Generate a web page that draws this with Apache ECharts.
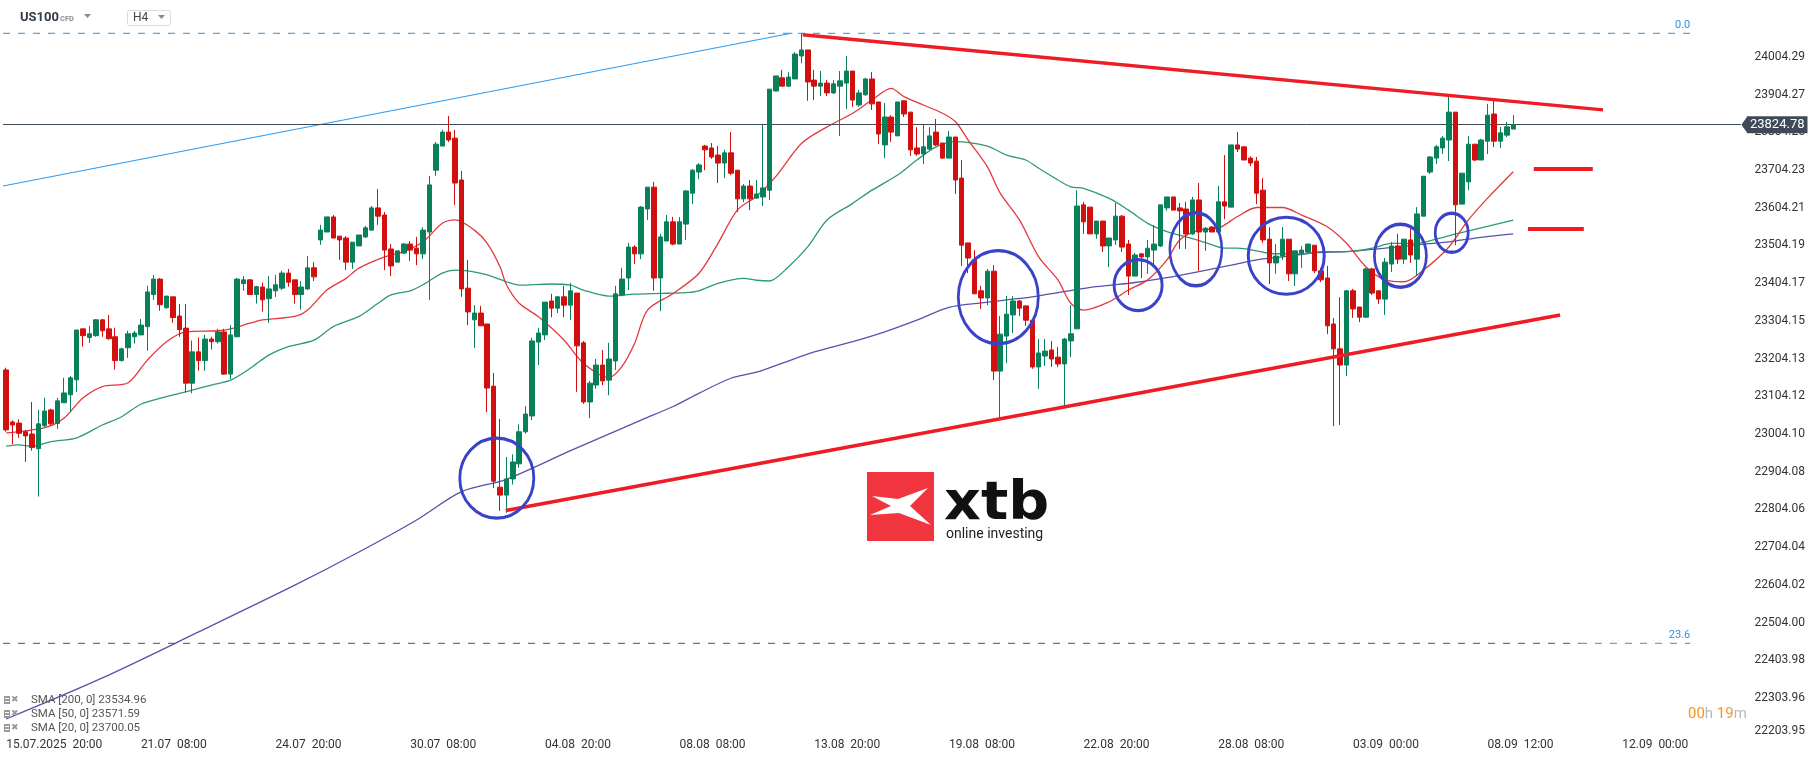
<!DOCTYPE html>
<html><head><meta charset="utf-8">
<script src="https://cdn.jsdelivr.net/npm/echarts@6/dist/echarts.min.js"></script>
<style>html,body{margin:0;padding:0;background:#fff}#c{width:1815px;height:761px}</style>
</head><body><div id="c"></div>
<script>
// ---------- DATA ----------
const opens = [23174,23036,23033,23010,23004,22965,23026,23068,23032,23087,23108,23148,23283,23260,23265,23307,23283,23262,23199,23233,23262,23267,23289,23374,23415,23339,23368,23317,23285,23139,23222,23199,23256,23249,23275,23163,23262,23403,23413,23374,
23394,23363,23384,23391,23431,23413,23374,23389,23445,23519,23540,23580,23529,23524,23460,23503,23527,23545,23604,23585,23495,23460,23484,23508,23497,23482,23540,23704,23768,23805,
23789,23678,23391,23307,23325,23296,23131,22863,22842,22885,22925,23010,23052,23248,23267,23357,23338,23368,23346,23378,23246,23089,23134,23187,23147,23198,23373,23418,23500,23482,
23601,23659,23418,23516,23567,23508,23561,23643,23699,23768,23763,23744,23723,23750,23704,23628,23662,23630,23633,23651,23914,23949,23927,23946,24007,24023,23943,23927,23935,23909,
23927,23935,23967,23877,23904,23946,23885,23771,23845,23795,23888,23858,23763,23747,23760,23805,23776,23736,23792,23683,23511,23466,23384,23365,23436,23171,23264,23320,23357,23344,
23306,23182,23211,23227,23208,23190,23251,23283,23612,23606,23535,23569,23503,23519,23582,23508,23423,23482,23474,23492,23503,23604,23633,23604,23601,23535,23625,23540,23553,23540,
23620,23606,23771,23766,23736,23728,23651,23521,23458,23476,23521,23429,23484,23487,23505,23437,23418,23296,23230,23187,23384,23341,23314,23442,23384,23362,23455,23503,23468,23519,
23468,23582,23699,23736,23763,23784,23858,23614,23673,23773,23731,23781,23853,23781,23797,23813];
const closes = [23015,23028,23006,22999,22968,23031,23065,23031,23092,23113,23153,23280,23265,23270,23307,23278,23257,23199,23230,23270,23272,23293,23381,23415,23347,23370,23313,23281,23139,23222,23199,23256,23249,23275,23163,23267,23415,23413,23374,23395,
23360,23389,23400,23431,23407,23374,23394,23445,23421,23545,23580,23524,23519,23460,23513,23532,23551,23604,23582,23492,23450,23490,23508,23492,23482,23545,23665,23773,23805,23784,
23670,23389,23328,23325,23291,23126,22879,22842,22885,22930,23010,23057,23251,23272,23354,23338,23368,23346,23384,23238,23089,23139,23187,23145,23203,23376,23415,23500,23482,23606,
23659,23418,23527,23567,23508,23567,23649,23704,23718,23758,23739,23723,23750,23696,23628,23662,23628,23641,23657,23919,23954,23927,23951,24012,24023,23938,23927,23935,23909,23933,
23941,23967,23890,23909,23946,23880,23800,23845,23805,23885,23853,23758,23747,23766,23795,23771,23736,23792,23678,23505,23471,23376,23365,23436,23171,23269,23322,23357,23338,23306,
23182,23219,23224,23203,23190,23256,23270,23609,23567,23535,23569,23503,23524,23582,23500,23423,23479,23474,23497,23508,23612,23633,23598,23596,23535,23625,23540,23550,23540,23620,
23609,23771,23760,23731,23723,23643,23519,23458,23476,23521,23429,23490,23492,23508,23437,23413,23291,23230,23187,23384,23336,23314,23442,23378,23362,23460,23503,23468,23521,23479,
23588,23688,23739,23766,23789,23858,23612,23696,23773,23731,23784,23850,23781,23803,23819,23824.78];
const lows = [23010,22977,22994,22930,22960,22838,23023,23026,23018,23087,23063,23116,23236,23246,23262,23262,23254,23175,23196,23206,23244,23267,23225,23360,23331,23337,23299,23262,23115,23112,23172,23172,23228,23244,23161,23150,23262,23384,23374,23350,
23329,23299,23368,23386,23395,23350,23334,23386,23410,23506,23540,23524,23466,23439,23442,23503,23524,23543,23559,23439,23423,23460,23482,23463,23452,23468,23360,23689,23768,23779,
23612,23368,23293,23232,23291,23062,22861,22800,22795,22870,22915,23005,23041,23187,23253,23314,23325,23314,23306,23116,23084,23046,23124,23134,23107,23174,23370,23386,23455,23468,
23572,23384,23330,23516,23505,23508,23519,23614,23680,23704,23734,23670,23683,23691,23593,23619,23598,23628,23609,23625,23914,23927,23925,23946,23988,23888,23890,23901,23901,23906,
23795,23866,23872,23872,23901,23864,23773,23736,23779,23795,23845,23742,23742,23720,23758,23768,23734,23736,23641,23450,23431,23376,23336,23346,23147,23041,23192,23272,23317,23291,
23177,23124,23185,23182,23182,23078,23208,23283,23535,23535,23522,23487,23447,23506,23487,23373,23423,23418,23429,23452,23500,23596,23598,23495,23495,23532,23436,23490,23540,23540,
23574,23606,23752,23731,23715,23614,23511,23402,23429,23466,23410,23397,23445,23484,23431,23407,23269,23025,23028,23158,23312,23301,23312,23373,23349,23320,23434,23455,23455,23458,
23423,23582,23694,23720,23747,23728,23505,23614,23651,23728,23731,23747,23765,23763,23792,23813];
const highs = [23180,23040,23043,23015,23089,23068,23100,23071,23100,23153,23158,23280,23283,23291,23309,23309,23320,23286,23233,23278,23278,23309,23397,23426,23418,23370,23368,23349,23349,23252,23260,23267,23262,23283,23283,23293,23418,23423,23415,23397,
23406,23423,23426,23437,23442,23413,23410,23476,23460,23559,23580,23585,23529,23529,23513,23532,23556,23609,23654,23593,23508,23490,23511,23516,23527,23553,23689,23779,23811,23848,
23811,23702,23466,23346,23344,23296,23166,23044,22943,22950,23030,23078,23259,23286,23354,23376,23370,23397,23405,23378,23251,23145,23203,23227,23246,23397,23445,23511,23505,23609,
23659,23673,23535,23585,23580,23580,23651,23707,23723,23771,23776,23768,23758,23805,23704,23667,23678,23678,23824,23919,23954,23970,23964,24017,24068,24023,23970,23967,23943,23943,
23967,24007,23967,23917,23949,23964,23885,23882,23850,23885,23888,23858,23818,23824,23818,23840,23776,23808,23792,23731,23511,23492,23397,23442,23452,23317,23370,23370,23360,23344,
23306,23256,23256,23251,23235,23259,23346,23651,23620,23606,23569,23569,23524,23617,23585,23519,23484,23484,23519,23559,23612,23633,23633,23617,23620,23633,23670,23553,23556,23662,
23744,23771,23805,23766,23741,23739,23683,23553,23508,23553,23521,23490,23503,23508,23505,23445,23450,23312,23367,23386,23389,23341,23445,23445,23384,23471,23513,23535,23521,23550,
23606,23688,23741,23771,23795,23901,23858,23696,23795,23773,23787,23880,23890,23819,23832,23850];

// x-axis tick labels, one every `labelEvery` bars
const xTickLabels = ['15.07.2025  20:00','21.07  08:00','24.07  20:00','30.07  08:00','04.08  20:00','08.08  08:00','13.08  20:00','19.08  08:00','22.08  20:00','28.08  08:00','03.09  00:00','08.09  12:00','12.09  00:00'];
const labelEvery = 21;
const futureBars = 35;
// y-axis tick labels (price scale)
const yTickValues = [22203.95,22303.96,22403.98,22504.00,22604.02,22704.04,22804.06,22904.08,23004.10,23104.12,23204.13,23304.15,23404.17,23504.19,23604.21,23704.23,23804.25,23904.27,24004.29];

// moving averages (bar index, value)
const sma20Idx = [0,6,9,12,15,19,22,25,28,33,35,38,40,45,47,50,53,55,59,62,65,68,70,73,75,77,78,80,83,87,90,94,96,98,100,104,108,111,114,117,120,124,128,132,135,138,140,143,146,148,150,153,155,158,161,164,166,168,172,175,178,181,183,186,189,192,195,199,202,206,209,212,215,218,221,225,228,231,235];
const sma20Val = [23007,23021,23046,23100,23130,23140,23200,23249,23275,23278,23283,23298,23307,23316,23333,23386,23417,23444,23474,23488,23514,23563,23572,23545,23510,23448,23400,23351,23315,23253,23192,23154,23183,23245,23333,23377,23430,23510,23598,23635,23687,23775,23819,23855,23890,23921,23899,23877,23855,23833,23784,23713,23643,23572,23474,23413,23351,23333,23355,23386,23413,23466,23519,23545,23550,23581,23605,23605,23585,23554,23510,23448,23413,23408,23439,23501,23572,23630,23700.05];
const sma50Idx = [0,2,4,7,11,15,18,21,25,28,32,35,38,41,44,48,51,55,58,60,63,65,68,70,72,75,78,80,85,88,90,94,98,102,106,108,111,115,117,119,122,125,128,132,135,139,142,145,148,153,156,159,161,164,166,168,172,175,178,181,184,187,190,192,195,197,202,205,209,213,216,220,223,226,229,235];
const sma50Val = [22972,22975,22972,22984,22994,23028,23050,23083,23103,23116,23134,23147,23178,23214,23236,23253,23289,23316,23351,23373,23384,23400,23431,23439,23437,23426,23408,23399,23402,23399,23386,23370,23375,23377,23379,23384,23404,23417,23412,23410,23448,23501,23572,23616,23651,23691,23731,23766,23780,23768,23744,23731,23709,23678,23660,23656,23629,23598,23563,23541,23527,23512,23497,23497,23490,23483,23482,23488,23488,23497,23510,23510,23521,23535,23547,23571.59];
const sma200Idx = [0,15,30,45,55,64,71,78,88,99,104,108,113,117,121,126,132,137,142,147,152,156,160,165,170,176,181,186,191,195,199,204,209,215,220,225,230,235];
const sma200Val = [22248,22357,22479,22603,22691,22776,22851,22884,22960,23041,23077,23112,23152,23168,23192,23222,23249,23275,23306,23340,23352,23360,23368,23382,23395,23406,23419,23435,23452,23466,23474,23485,23488,23497,23506,23514,23526,23534.96];

const smaLegend = [['SMA [200, 0]', 23534.96], ['SMA [50, 0]', 23571.59], ['SMA [20, 0]', 23700.05]];

// drawings: fibonacci levels, trend lines, marks (bar index, price)
const fibLevels = [['0.0', 24067.2], ['23.6', 22448.8]];
const fibRange = [-0.5, 262.6];
const fib236Split = 245.4;            // bar index where the dark horizontal ends and only the fib level remains
const fibDiagonal = [[-0.5, 23662], [122.6, 24068]];
const upperTrend = [[124.2, 24063], [249.0, 23864]];
const lowerTrend = [[77.9, 22801], [242.3, 23320]];
const levelMarks = [[[238.2, 23707], [247.4, 23707]], [[237.3, 23548], [246.0, 23548]]];
const circleCenters = [[76.5, 22887], [154.7, 23367], [176.5, 23399], [185.5, 23494], [199.6, 23477], [217.4, 23477], [225.4, 23538]];
const circleSizesPx = [[74, 80], [80, 93], [48, 51], [52, 73], [76, 77], [52, 63], [33, 39]];

// ---------- CHART ----------
const nBars = opens.length;
const nCats = nBars + futureBars;
const cats = Array.from({length: nCats}, (_, i) => String(i));
const candles = opens.map((o, i) => [o, closes[i], lows[i], highs[i]]);
const lastPrice = closes[nBars - 1];
const pair = (idx, val) => idx.map((x, i) => [x, val[i]]);

const GREEN = '#08805a', RED = '#d20f0f';
const FONT = 'Roboto';
const yMin = yTickValues[0];
const chart = echarts.init(document.getElementById('c'), null, {renderer: 'canvas'});

const series = [
  {
    type: 'candlestick', xAxisIndex: 0, yAxisIndex: 0, data: candles, barWidth: 5, z: 5,
    itemStyle: {color: GREEN, color0: RED, borderColor: GREEN, borderColor0: RED, borderWidth: 1},
    markLine: {
      symbol: 'none', silent: true, animation: false,
      data: [{yAxis: lastPrice}],
      lineStyle: {color: '#3e4b57', width: 1, type: 'solid'},
      label: {position: 'end', distance: 6, formatter: () => lastPrice.toFixed(2), backgroundColor: '#3e4b57', color: '#fff', fontFamily: FONT, fontSize: 13, padding: [2, 3, 2, 3]}
    }
  },
  {type: 'line', xAxisIndex: 1, yAxisIndex: 0, data: pair(sma200Idx, sma200Val), smooth: 0.3, showSymbol: false, lineStyle: {color: '#5353ad', width: 1.3}, z: 3, silent: true},
  {type: 'line', xAxisIndex: 1, yAxisIndex: 0, data: pair(sma50Idx, sma50Val), smooth: 0.3, showSymbol: false, lineStyle: {color: '#2f9a6e', width: 1.3}, z: 3, silent: true},
  {type: 'line', xAxisIndex: 1, yAxisIndex: 0, data: pair(sma20Idx, sma20Val), smooth: 0.3, showSymbol: false, lineStyle: {color: '#e2393f', width: 1.3}, z: 3, silent: true},
  {type: 'line', xAxisIndex: 1, yAxisIndex: 0, data: fibDiagonal, showSymbol: false, lineStyle: {color: '#2d9cf2', width: 1.2}, z: 4, silent: true}
];
fibLevels.forEach(([name, price], k) => {
  series.push({
    type: 'line', xAxisIndex: 1, yAxisIndex: 0, showSymbol: true, symbol: 'circle', symbolSize: 0.01, silent: true, z: 4,
    itemStyle: {color: 'rgba(0,0,0,0)'},
    lineStyle: {color: '#2d8fe8', width: 1, type: [7, 8]},
    data: [
      {value: [k === 0 ? fibRange[0] : fib236Split, price], label: {show: false}},
      {value: [fibRange[1], price], label: {show: true, position: 'top', align: 'right', distance: 3, formatter: name, color: '#2d8fe8', fontFamily: FONT, fontSize: 11}}
    ]
  });
  if (k === 1) {
    series.push({type: 'line', xAxisIndex: 1, yAxisIndex: 0, showSymbol: false, silent: true, z: 4,
      lineStyle: {color: '#4a5260', width: 1, type: [7, 8]},
      data: [[fibRange[0], price], [fib236Split, price]]});
  }
});
[upperTrend, lowerTrend].forEach(tr => series.push({type: 'line', xAxisIndex: 1, yAxisIndex: 0, data: tr, showSymbol: false, silent: true, z: 6, lineStyle: {color: '#ee1c25', width: 3.5}}));
levelMarks.forEach(seg => series.push({type: 'line', xAxisIndex: 1, yAxisIndex: 0, data: seg, showSymbol: false, silent: true, z: 6, lineStyle: {color: '#ee1c25', width: 4}}));
series.push({
  type: 'scatter', xAxisIndex: 1, yAxisIndex: 0, silent: true, z: 7,
  data: circleCenters.map((c, i) => ({value: c, symbolSize: circleSizesPx[i]})),
  symbol: 'circle',
  itemStyle: {color: 'rgba(0,0,0,0)', borderColor: '#3a43c8', borderWidth: 3, opacity: 1}
});

const option = {
  animation: false,
  backgroundColor: '#ffffff',
  grid: {left: 3, right: 1815 - (3 + nCats * 6.413), top: 20.92, bottom: 25.4, containLabel: false},
  xAxis: [
    {type: 'category', data: cats, boundaryGap: true, axisLine: {show: false}, axisTick: {show: false}, splitLine: {show: false},
     axisLabel: {interval: 0, align: 'left', margin: 3, color: '#333', fontFamily: FONT, fontSize: 12,
       formatter: (v, i) => (i % labelEvery === 0 && xTickLabels[i / labelEvery]) ? xTickLabels[i / labelEvery] : ''}},
    {type: 'value', min: -0.5, max: nCats - 0.5, show: false}
  ],
  yAxis: [{
    type: 'value', position: 'right', min: yMin, max: 24100, scale: true,
    axisLine: {show: false}, axisTick: {show: false}, splitLine: {show: false},
    axisLabel: {customValues: yTickValues, align: 'right', margin: 64, color: '#333', fontFamily: FONT, fontSize: 12,
      formatter: v => Math.abs(v - yMin) < 0.001 ? '{m|' + v.toFixed(2) + '}' : v.toFixed(2),
      rich: {m: {padding: [0, 0, 9, 0], color: '#333', fontFamily: FONT, fontSize: 12}}}
  }],
  series: series,
  graphic: []
};
chart.setOption(option);

// ---------- decorations ----------
const py = chart.convertToPixel({yAxisIndex: 0}, lastPrice);
const gRight = 3 + nCats * 6.413;
const g = [];
g.push({type: 'polygon', shape: {points: [[gRight + 0.5, py], [gRight + 6.5, py - 8.5], [gRight + 6.5, py + 8.5]]}, style: {fill: '#3e4b57'}, z: 100});
// header
g.push({type: 'text', left: 20, top: 11, style: {text: 'US100', font: 'bold 13px Roboto', fill: '#2f3b46'}, z: 100});
g.push({type: 'text', left: 60, top: 15, style: {text: 'CFD', font: 'bold 7.5px Roboto', fill: '#8c8c8c'}, z: 100});
g.push({type: 'polygon', shape: {points: [[84, 14], [91, 14], [87.5, 18]]}, style: {fill: '#8c8c8c'}, z: 100});
g.push({type: 'rect', shape: {x: 127.5, y: 10.5, width: 43, height: 15, r: 2}, style: {fill: '#fff', stroke: '#dcdcdc', lineWidth: 1}, z: 100});
g.push({type: 'text', left: 133, top: 12, style: {text: 'H4', font: '12px Roboto', fill: '#444'}, z: 101});
g.push({type: 'polygon', shape: {points: [[158, 15], [165, 15], [161.5, 19]]}, style: {fill: '#8c8c8c'}, z: 101});
// SMA legend (bottom-left)
smaLegend.forEach(([name, val], i) => {
  const y = 696 + i * 14;
  g.push({type: 'rect', shape: {x: 4, y: y, width: 6, height: 8}, style: {fill: '#9a9a9a'}, z: 100});
  g.push({type: 'rect', shape: {x: 5, y: y + 2, width: 4, height: 1}, style: {fill: '#fff'}, z: 101});
  g.push({type: 'rect', shape: {x: 5, y: y + 5, width: 4, height: 1}, style: {fill: '#fff'}, z: 101});
  g.push({type: 'text', left: 11, top: y - 1, style: {text: '✖', font: '9px DejaVu Sans', fill: '#9a9a9a'}, z: 100});
  g.push({type: 'text', left: 31, top: y - 2, style: {text: name + ' ' + val.toFixed(2), font: '11.5px Roboto', fill: '#555'}, z: 100});
});
// countdown
g.push({type: 'text', left: 1688, top: 707, style: {text: '{o|00}{g|h} {o|19}{g|m}', font: '15px Roboto', rich: {o: {fill: '#f7941d', font: '15px Roboto'}, g: {fill: '#b8b8b8', font: '15px Roboto'}}}, z: 100});
// xtb watermark
g.push({type: 'rect', shape: {x: 867, y: 472, width: 67, height: 69}, style: {fill: '#f0353f'}, z: 1});
g.push({type: 'polygon', shape: {points: [[872, 496], [898, 499], [928, 488], [910, 506], [931, 525], [899, 513], [870, 515], [891, 506]]}, style: {fill: '#ffffff'}, z: 2});
g.push({type: 'text', x: 944, y: 478, scaleX: 1.06, style: {text: 'xtb', font: 'bold 54px DejaVu Sans', fill: '#111'}, z: 1});
g.push({type: 'text', left: 946, top: 527, style: {text: 'online investing', font: '14px Roboto', fill: '#222'}, z: 1});
chart.setOption({graphic: g});
</script></body></html>
